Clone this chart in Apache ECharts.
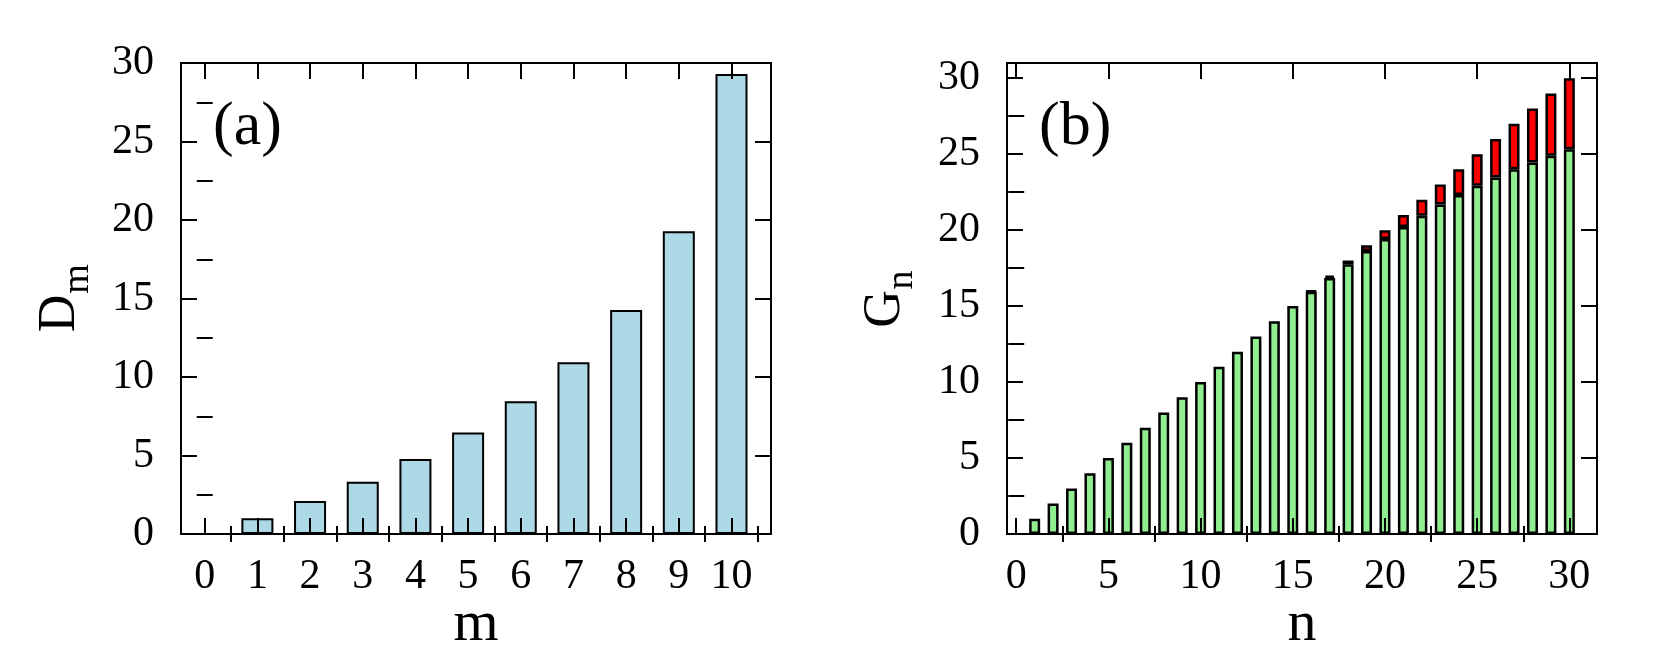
<!DOCTYPE html>
<html>
<head>
<meta charset="utf-8">
<script src="https://cdn.jsdelivr.net/npm/echarts@6/dist/echarts.min.js"></script>
<style>
  html, body { margin: 0; padding: 0; background: #fff; }
  #chart { width: 1660px; height: 657px; }
</style>
</head>
<body>
<div id="chart"></div>
<script>
// panel (a): D_m against m
const mVals = [0, 1, 2, 3, 4, 5, 6, 7, 8, 9, 10];
const dVals = [0, 1.0, 2.1, 3.33, 4.78, 6.46, 8.46, 10.94, 14.27, 19.28, 29.3];

// panel (b): G_n against n, green part + red part on top
const nSlots = [0, 1, 2, 3, 4, 5, 6, 7, 8, 9, 10, 11, 12, 13, 14, 15,
  16, 17, 18, 19, 20, 21, 22, 23, 24, 25, 26, 27, 28, 29, 30, 31];
const nVals = [1, 2, 3, 4, 5, 6, 7, 8, 9, 10, 11, 12, 13, 14, 15,
  16, 17, 18, 19, 20, 21, 22, 23, 24, 25, 26, 27, 28, 29, 30];
const greenVals = [1, 2, 3, 4, 5, 6, 7, 8, 9, 10, 11, 12, 13, 14, 15,
  15.95, 16.85, 17.75, 18.62, 19.41, 20.2, 20.94, 21.69, 22.32, 22.92,
  23.46, 24.01, 24.45, 24.89, 25.33];
const redVals = [null, null, null, null, null, null, null, null, null, null,
  null, null, null, null, null,
  0.05, 0.15, 0.25, 0.38, 0.59, 0.8, 1.06, 1.31, 1.68, 2.08,
  2.54, 2.99, 3.55, 4.11, 4.67];

// tick labels
const mTicks = [0, 1, 2, 3, 4, 5, 6, 7, 8, 9, 10];
const mMinor = [0.5, 1.5, 2.5, 3.5, 4.5, 5.5, 6.5, 7.5, 8.5, 9.5, 10.5];
const dTicks = [0, 5, 10, 15, 20, 25, 30];
const dMinor = [2.5, 7.5, 12.5, 17.5, 22.5, 27.5];
const nTicks = [0, 5, 10, 15, 20, 25, 30];
const nMinor = [2.5, 7.5, 12.5, 17.5, 22.5, 27.5];
const gTicks = [0, 5, 10, 15, 20, 25, 30];
const gMinor = [2.5, 7.5, 12.5, 17.5, 22.5, 27.5];

const FONT = '"Liberation Serif", "DejaVu Serif", serif';
const black = { color: '#000', width: 2 };

// four sides of a frame: labelled side, its minor ticks, mirror side, its minor ticks
function sideAxes(kind, g, min, max, major, minor) {
  const pos = kind === 'x' ? ['bottom', 'top'] : ['left', 'right'];
  const base = { type: 'value', gridIndex: g, min: min, max: max, z: 10, splitLine: { show: false } };
  const line = { show: true, onZero: false, lineStyle: black };
  return [
    Object.assign({}, base, {
      position: pos[0], axisLine: line,
      axisTick: { show: true, inside: true, length: 16, customValues: major, lineStyle: black },
      axisLabel: {
        show: true, customValues: major, margin: kind === 'x' ? 22 : 27,
        fontSize: 42, fontFamily: FONT, color: '#000'
      }
    }),
    Object.assign({}, base, {
      position: pos[0], axisLine: { show: false },
      axisTick: { show: true, inside: true, length: 8, customValues: minor, lineStyle: black },
      axisLabel: { show: false }
    }),
    Object.assign({}, base, {
      position: pos[1], axisLine: line,
      axisTick: { show: true, inside: true, length: 16, customValues: major, lineStyle: black },
      axisLabel: { show: false }
    }),
    Object.assign({}, base, {
      position: pos[1], axisLine: { show: false },
      axisTick: { show: true, inside: true, length: 8, customValues: minor, lineStyle: black },
      axisLabel: { show: false }
    })
  ];
}

function txt(x, y, s, size, rot, align) {
  return {
    type: 'text', x: x, y: y, rotation: rot || 0, z: 20,
    style: {
      text: s, font: size + 'px ' + FONT, fill: '#000',
      align: align || 'center', verticalAlign: 'middle',
      textAlign: align || 'center', textVerticalAlign: 'middle'
    }
  };
}

// hidden category axis for the stacked bars of (b), slots -0.5 .. 31.5
const nBarAxis = {
  type: 'category', gridIndex: 1, data: nSlots, boundaryGap: true, show: false
};

var chart = echarts.init(document.getElementById('chart'));
var option = {
  backgroundColor: '#fff',
  animation: false,
  grid: [
    { left: 181, top: 63, width: 590, height: 471, outerBoundsMode: 'none' },
    { left: 1007, top: 63, width: 590, height: 471, outerBoundsMode: 'none' }
  ],
  xAxis: sideAxes('x', 0, -0.45, 10.75, mTicks, mMinor)
    .concat(sideAxes('x', 1, -0.5, 31.5, nTicks, nMinor))
    .concat([nBarAxis]),
  yAxis: sideAxes('y', 0, 0, 30, dTicks, dMinor)
    .concat(sideAxes('y', 1, 0, 31, gTicks, gMinor)),
  series: [
    {
      name: 'D', type: 'bar', xAxisIndex: 0, yAxisIndex: 0, barWidth: 32,
      itemStyle: { color: '#ADD8E6', borderColor: '#000', borderWidth: 2 },
      data: mVals.map((m, i) => [m, dVals[i]])
    },
    {
      name: 'G green', type: 'bar', xAxisIndex: 8, yAxisIndex: 4, barWidth: 11, stack: 'g',
      itemStyle: { color: '#90EE90', borderColor: '#000', borderWidth: 2.5 },
      data: nVals.map((n, i) => [n, greenVals[i]])
    },
    {
      name: 'G red', type: 'bar', xAxisIndex: 8, yAxisIndex: 4, barWidth: 11, stack: 'g',
      itemStyle: { color: '#FF0000', borderColor: '#000', borderWidth: 2.5 },
      data: nVals.map((n, i) => [n, redVals[i]])
    }
  ],
  graphic: [
    txt(213, 128, '(a)', 62, 0, 'left'),
    txt(1039, 128, '(b)', 62, 0, 'left'),
    txt(476, 625, 'm', 58),
    txt(1302, 625, 'n', 58),
    txt(60, 313.5, 'D', 52, Math.PI / 2),
    txt(78, 279, 'm', 38, Math.PI / 2),
    txt(885.5, 309, 'G', 52, Math.PI / 2),
    txt(902, 280, 'n', 38, Math.PI / 2)
  ]
};
chart.setOption(option);
</script>
</body>
</html>
